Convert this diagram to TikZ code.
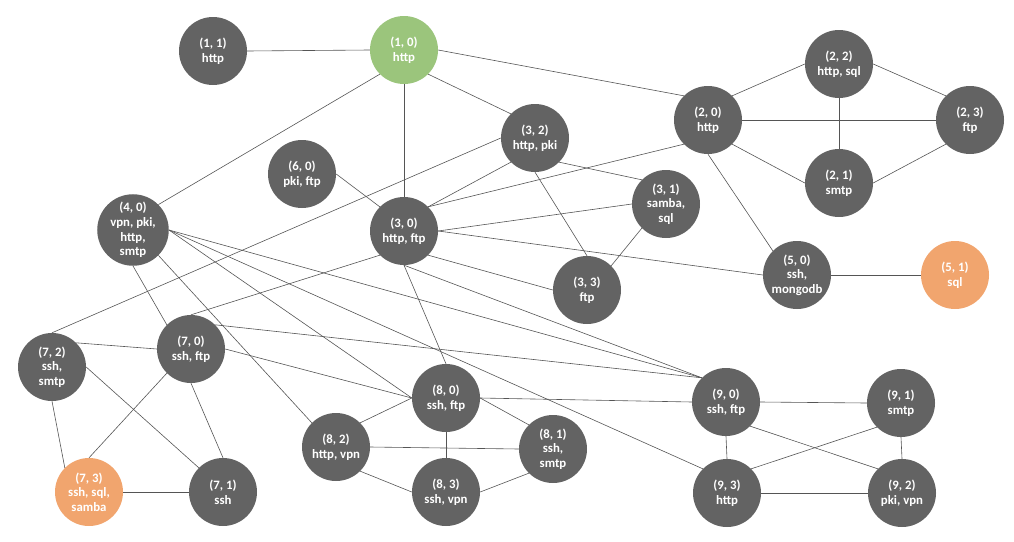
\documentclass[tikz,border=0pt]{standalone}
\usepackage{fontspec}
\setmainfont{Carlito}
\definecolor{nodegray}{RGB}{99,99,99}
\definecolor{nodegreen}{RGB}{155,197,124}
\definecolor{nodeorange}{RGB}{241,165,110}
\definecolor{edgegray}{RGB}{85,85,85}
\begin{document}
\begin{tikzpicture}[x=1pt,y=-1pt,
  host/.style={circle,fill=nodegray,draw=none,minimum size=68pt,inner sep=0pt,
    text=white,align=center,font=\fontsize{12.8}{14.6}\selectfont\bfseries},
  start/.style={host,fill=nodegreen},
  target/.style={host,fill=nodeorange},
  link/.style={draw=edgegray,line width=0.6pt}]
\useasboundingbox (0,0) rectangle (1014,541);
\node[host]   (n11) at (213,51)  {(1, 1)\\http};
\node[start]  (n10) at (404,50)  {(1, 0)\\http};
\node[host]   (n22) at (839,64)  {(2, 2)\\http, sql};
\node[host]   (n20) at (708,120) {(2, 0)\\http};
\node[host]   (n23) at (970,120) {(2, 3)\\ftp};
\node[host]   (n32) at (535,138) {(3, 2)\\http, pki};
\node[host]   (n60) at (302,174) {(6, 0)\\pki, ftp};
\node[host]   (n21) at (839,183) {(2, 1)\\smtp};
\node[host]   (n31) at (666,204) {(3, 1)\\samba,\\sql};
\node[host]   (n40) at (133,230) {(4, 0)\\vpn, pki,\\http,\\smtp};
\node[host]   (n30) at (404,231) {(3, 0)\\http, ftp};
\node[host]   (n50) at (797,275) {(5, 0)\\ssh,\\mongodb};
\node[target] (n51) at (955,275) {(5, 1)\\sql};
\node[host]   (n33) at (587,290) {(3, 3)\\ftp};
\node[host]   (n72) at (52,367)  {(7, 2)\\ssh,\\smtp};
\node[host]   (n70) at (191,349) {(7, 0)\\ssh, ftp};
\node[host]   (n80) at (446,398) {(8, 0)\\ssh, ftp};
\node[host]   (n90) at (726,402) {(9, 0)\\ssh, ftp};
\node[host]   (n91) at (901,403) {(9, 1)\\smtp};
\node[host]   (n82) at (336,447) {(8, 2)\\http, vpn};
\node[host]   (n81) at (553,449) {(8, 1)\\ssh,\\smtp};
\node[target] (n73) at (89,492)  {(7, 3)\\ssh, sql,\\samba};
\node[host]   (n71) at (223,492) {(7, 1)\\ssh};
\node[host]   (n83) at (446,492) {(8, 3)\\ssh, vpn};
\node[host]   (n93) at (727,493) {(9, 3)\\http};
\node[host]   (n92) at (902,493) {(9, 2)\\pki, vpn};

\draw[link] (n11.east) -- (n10.west);
\draw[link] (n10.east) -- (n20.north west);
\draw[link] (n10.south west) -- (n40.north east);
\draw[link] (n10.south) -- (n30.north);
\draw[link] (n10.south east) -- (n32.north west);
\draw[link] (n20.north east) -- (n22.west);
\draw[link] (n20.east) -- (n23.west);
\draw[link] (n20.south east) -- (n21.west);
\draw[link] (n22.east) -- (n23.north west);
\draw[link] (n22.south) -- (n21.north);
\draw[link] (n21.east) -- (n23.south west);
\draw[link] (n20.south) -- (n50.north west);
\draw[link] (n20.south west) -- (n30.north east);
\draw[link] (n32.south west) -- (n30.north east);
\draw[link] (n32.south east) -- (n31.north west);
\draw[link] (n32.south) -- (n33.north);
\draw[link] (n31.south west) -- (n33.north east);
\draw[link] (n30.east) -- (n31.west);
\draw[link] (n30.east) -- (n50.west);
\draw[link] (n30.south east) -- (n33.west);
\draw[link] (n60.east) -- (n30.north west);
\draw[link] (n32.west) -- (n72.north);
\draw[link] (n30.south west) -- (n70.north);
\draw[link] (n30.south) -- (n80.north);
\draw[link] (n30.south) -- (n90.north west);
\draw[link] (n40.east) -- (n90.north west);
\draw[link] (n40.east) -- (n93.north west);
\draw[link] (n40.east) -- (n80.west);
\draw[link] (n40.south east) -- (n82.north west);
\draw[link] (n40.south) -- (n70.north west);
\draw[link] (n72.north east) -- (n70.west);
\draw[link] (n72.east) -- (n71.north west);
\draw[link] (n72.south) -- (n73.north west);
\draw[link] (n70.south west) -- (n73.north);
\draw[link] (n70.south) -- (n71.north);
\draw[link] (n73.east) -- (n71.west);
\draw[link] (n70.east) -- (n80.west);
\draw[link] (n70.north east) -- (n90.north west);
\draw[link] (n82.north east) -- (n80.west);
\draw[link] (n82.east) -- (n81.west);
\draw[link] (n82.south east) -- (n83.west);
\draw[link] (n80.south) -- (n83.north);
\draw[link] (n80.east) -- (n90.west);
\draw[link] (n80.east) -- (n81.north west);
\draw[link] (n83.east) -- (n81.south west);
\draw[link] (n90.east) -- (n91.west);
\draw[link] (n90.south) -- (n93.north);
\draw[link] (n90.south east) -- (n92.north west);
\draw[link] (n93.north east) -- (n91.south west);
\draw[link] (n93.east) -- (n92.west);
\draw[link] (n91.south) -- (n92.north);
\draw[link] (n50.east) -- (n51.west);
\end{tikzpicture}
\end{document}
